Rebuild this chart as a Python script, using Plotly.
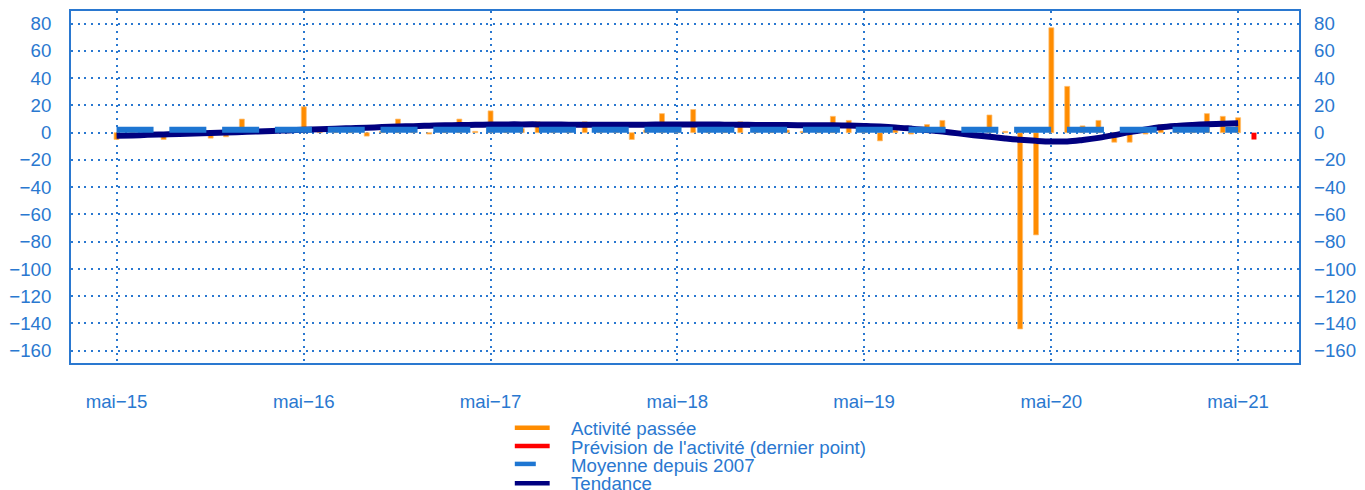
import plotly.graph_objects as go
import pandas as pd

# ---------------- data ----------------
mois = pd.date_range("2015-05-01", "2021-05-01", freq="MS")  # mai-15 .. mai-21

activite = [
    -5, 1, 2, -5, 1, 2, -4, -3, 10, 2, 1, 3,
    19, 2, 1, 2, -2.5, 1, 10, 2, -1, 6, 10, 1,
    16, 2, 3, 8, 2, 1, 8, 2, 1, -5, 2, 14,
    2, 17, 3, 2, 8, 1, 2, 2, 1, 2, 12, 9,
    6, -6, 2, -1, 6, 9, 1, 1, 13, 1, -144, -75,
    77, 34, 5, 9, -7, -7, -1, 6, 2, 3, 14, 12,
    11,
]

prevision_mois = ["2021-06-01"]
prevision = [-5]

moyenne_2007 = 2.1

tendance = [
    -2.3, -2.0, -1.6, -1.3, -0.9, -0.6, -0.2, 0.2, 0.5, 0.9, 1.3, 1.7,
    2.1, 2.5, 2.9, 3.3, 3.7, 4.1, 4.5, 4.8, 5.1, 5.4, 5.6, 5.8,
    6.0, 6.1, 6.1, 6.1, 6.0, 5.9, 5.8, 5.8, 5.8, 5.8, 5.9, 6.0,
    6.0, 6.0, 6.0, 5.9, 5.8, 5.7, 5.6, 5.6, 5.5, 5.5, 5.4, 5.2,
    4.9, 4.5, 3.9, 3.0, 2.0, 0.8, -0.5, -1.8, -3.0, -4.2, -5.2, -6.0,
    -6.5, -6.4, -5.3, -3.8, -1.8, 0.4, 2.4, 4.0, 5.0, 5.7, 6.2, 6.6,
    7.0,
]

tick_dates = ["2015-05-01", "2016-05-01", "2017-05-01", "2018-05-01",
              "2019-05-01", "2020-05-01", "2021-05-01"]
tick_labels = ["mai\u221215", "mai\u221216", "mai\u221217", "mai\u221218",
               "mai\u221219", "mai\u221220", "mai\u221221"]
y_ticks = list(range(-160, 81, 20))

legend_names = ["Activité passée", "Prévision de l'activité (dernier point)",
                "Moyenne depuis 2007", "Tendance"]

# ---------------- style ----------------
BLUE = "#2a78d0"
MEAN_BLUE = "#1e76d2"
ORANGE = "#ff8c00"
RED = "#ff0000"
NAVY = "#000080"
FONT = "Liberation Sans, Arial, sans-serif"
FS = 18.67
Y_RANGE = [-169, 89.3]
X_RANGE = ["2015-02-01", "2021-08-28"]
BAR_W = 8.4e8

fig = go.Figure()

fig.add_trace(go.Bar(
    x=mois, y=activite, name=legend_names[0], width=BAR_W,
    marker=dict(color=ORANGE, line=dict(color="rgba(255,190,110,0.9)", width=0.8)),
    showlegend=False,
))
fig.add_trace(go.Bar(
    x=prevision_mois, y=prevision, name=legend_names[1], width=BAR_W,
    marker=dict(color=RED, line=dict(width=0)),
    showlegend=False,
))
fig.add_trace(go.Scatter(
    x=mois, y=tendance, name=legend_names[3], mode="lines",
    line=dict(color=NAVY, width=6, shape="spline"),
    showlegend=False,
))
fig.add_trace(go.Scatter(
    x=mois, y=[moyenne_2007] * len(mois), name=legend_names[2], mode="lines",
    line=dict(color=MEAN_BLUE, width=6, dash="37px,15.8px"),
    showlegend=False,
))
# invisible trace to carry the right-hand axis
fig.add_trace(go.Scatter(
    x=mois, y=[moyenne_2007] * len(mois), yaxis="y2", mode="lines",
    line=dict(width=0), opacity=0, hoverinfo="skip", showlegend=False,
))

grid_dash = "2px,4.7px"
fig.update_layout(
    width=1365, height=490, autosize=False,
    margin=dict(l=70, r=57, t=9, b=127),
    paper_bgcolor="white", plot_bgcolor="white",
    font=dict(family=FONT, size=FS, color=BLUE),
    barmode="overlay",
    showlegend=False,
    xaxis=dict(
        type="date", range=X_RANGE,
        tickmode="array", tickvals=tick_dates, ticktext=tick_labels,
        showgrid=True, gridcolor=BLUE, gridwidth=1.6, griddash=grid_dash,
        showline=True, linecolor=BLUE, linewidth=2, mirror=True,
        ticks="", ticklabelstandoff=21,
        tickfont=dict(family=FONT, size=FS, color=BLUE),
        zeroline=False,
    ),
    yaxis=dict(
        range=Y_RANGE, tickmode="array", tickvals=y_ticks,
        showgrid=True, gridcolor=BLUE, gridwidth=1.6, griddash=grid_dash,
        showline=True, linecolor=BLUE, linewidth=2, mirror=True,
        zeroline=False, ticks="", ticklabelstandoff=14,
        tickfont=dict(family=FONT, size=FS, color=BLUE),
    ),
    yaxis2=dict(
        range=Y_RANGE, tickmode="array", tickvals=y_ticks,
        overlaying="y", side="right", showgrid=False, zeroline=False,
        showline=False, ticks="", ticklabelstandoff=14,
        tickfont=dict(family=FONT, size=FS, color=BLUE),
    ),
)

# ---------------- manual legend (below the plot) ----------------
leg_colors = [ORANGE, RED, MEAN_BLUE, NAVY]
leg_x1 = [0.3898, 0.3898, 0.3785, 0.3898]
leg_line_y = [-0.1836, -0.2359, -0.2867, -0.3418]
leg_text_y = [-0.1864, -0.2387, -0.2910, -0.3418]
for name, col, x1, ly, ty in zip(legend_names, leg_colors, leg_x1, leg_line_y, leg_text_y):
    fig.add_shape(type="line", xref="paper", yref="paper",
                  x0=0.3614, x1=x1, y0=ly, y1=ly,
                  line=dict(color=col, width=4.5))
    fig.add_annotation(xref="paper", yref="paper", x=0.4052, y=ty,
                       text=name, showarrow=False, xanchor="left", yanchor="middle",
                       font=dict(family=FONT, size=FS, color=BLUE))

fig.write_html(
    "out.html",
    config={"displayModeBar": False},
    post_script="document.body.style.margin='0';document.body.style.overflow='hidden';",
)
